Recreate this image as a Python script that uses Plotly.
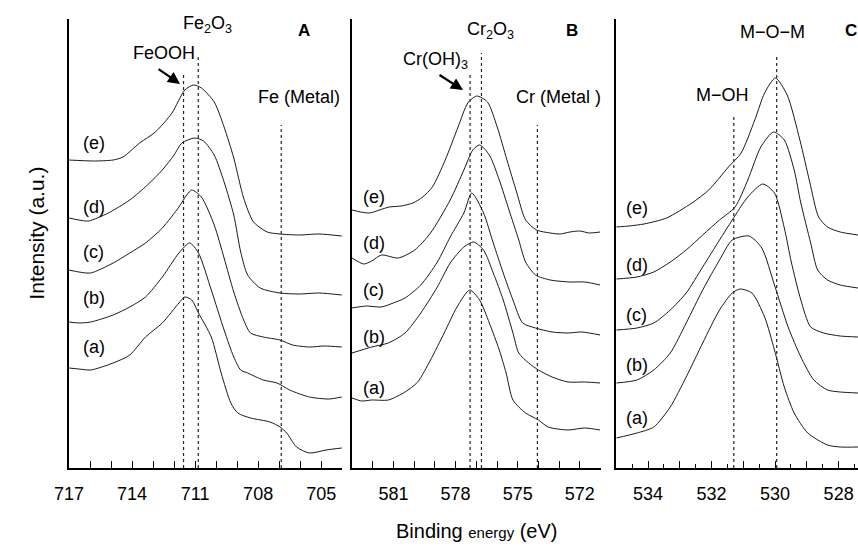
import plotly.graph_objects as go

# ---------------- data ----------------
# Panel A : Fe 2p3/2
A_E_e = [717.0, 715.83, 714.90, 714.43, 713.64, 712.89, 712.10, 711.49, 711.07, 710.70, 710.09, 709.62, 709.16, 708.69, 708.22, 707.57, 706.96, 706.03, 705.10, 704.02]
A_I_e = [308, 307, 308, 311, 325, 336, 355, 378, 383, 380, 366, 341, 310, 270, 246, 236, 234, 233, 234, 232]
A_E_d = [717.0, 716.53, 716.07, 715.13, 714.11, 713.27, 712.56, 712.0, 711.63, 711.02, 710.60, 710.09, 709.62, 709.16, 708.83, 708.50, 707.90, 706.96, 706.03, 705.10, 704.02]
A_I_d = [250, 248, 247, 255, 268, 283, 298, 313, 325, 330, 327, 313, 286, 253, 216, 193, 180, 175, 174, 175, 173]
A_E_c = [717.0, 716.53, 715.97, 714.90, 714.11, 713.36, 712.56, 711.77, 711.40, 711.16, 710.70, 710.09, 709.62, 709.16, 708.69, 708.36, 707.76, 706.96, 706.36, 705.56, 704.86, 704.02]
A_I_c = [198, 196, 195, 205, 215, 225, 240, 261, 273, 278, 271, 243, 210, 176, 148, 135, 131, 128, 123, 121, 122, 121]
A_E_b = [717.0, 716.53, 715.97, 714.90, 714.11, 713.36, 712.56, 711.77, 711.26, 710.84, 710.23, 709.62, 709.16, 708.83, 708.50, 707.76, 707.10, 706.50, 705.56, 704.63, 704.02]
A_I_b = [146, 145, 146, 153, 161, 171, 191, 215, 225, 215, 178, 138, 111, 98, 95, 88, 85, 78, 71, 69, 71]
A_E_a = [717.0, 716.53, 715.97, 714.90, 714.11, 713.36, 712.56, 711.77, 711.49, 711.16, 710.84, 710.23, 709.76, 709.30, 708.97, 708.36, 707.43, 706.96, 706.64, 706.17, 705.56, 704.77, 704.02]
A_I_a = [100, 99, 98, 105, 113, 131, 145, 165, 171, 168, 155, 131, 95, 65, 55, 50, 46, 41, 35, 21, 15, 18, 20]

# Panel B : Cr 2p3/2
B_E_e = [583.0, 582.57, 582.15, 581.67, 581.20, 580.63, 580.06, 579.59, 579.12, 578.50, 577.88, 577.41, 576.98, 576.46, 575.99, 575.52, 575.04, 574.62, 574.09, 573.43, 572.95, 572.48, 572.01, 571.54, 571.02]
B_I_e = [258, 256, 255, 258, 261, 262, 265, 271, 281, 308, 341, 365, 372, 366, 341, 308, 275, 248, 238, 235, 234, 236, 237, 235, 236]
B_E_d = [583.0, 582.43, 582.05, 581.58, 580.77, 579.97, 579.21, 578.26, 577.60, 577.17, 576.84, 576.37, 575.89, 575.42, 574.95, 574.62, 574.14, 573.43, 572.48, 571.77, 571.02]
B_I_d = [210, 204, 207, 213, 210, 218, 235, 268, 298, 318, 323, 313, 288, 258, 228, 206, 193, 188, 186, 186, 183]
B_E_c = [583.0, 582.29, 581.58, 581.01, 580.44, 579.68, 578.88, 578.26, 577.60, 577.22, 576.65, 576.18, 575.70, 575.23, 574.76, 574.14, 573.34, 572.57, 571.91, 571.02]
B_I_c = [160, 162, 161, 165, 170, 183, 206, 231, 255, 275, 255, 225, 195, 168, 145, 140, 136, 135, 136, 133]
B_E_b = [583.0, 582.05, 581.25, 580.44, 579.68, 578.88, 578.26, 577.60, 577.13, 576.65, 576.18, 575.70, 575.23, 574.95, 574.47, 574.0, 573.34, 572.57, 571.77, 571.02]
B_I_b = [115, 121, 125, 135, 155, 181, 205, 221, 226, 218, 195, 168, 135, 115, 105, 98, 91, 86, 86, 85]
B_E_a = [583.0, 582.53, 582.05, 581.25, 580.44, 579.83, 579.21, 578.55, 577.93, 577.32, 576.84, 576.37, 575.89, 575.56, 575.23, 574.62, 574.0, 573.53, 572.57, 571.77, 571.02]
B_I_a = [70, 67, 68, 68, 76, 86, 108, 135, 161, 178, 168, 145, 118, 95, 68, 55, 48, 41, 38, 40, 38]

# Panel C : O 1s
C_E_e = [535.0, 534.6, 534.13, 533.42, 532.62, 532.09, 531.47, 531.07, 530.64, 530.33, 529.99, 529.62, 529.22, 528.91, 528.63, 528.35, 527.95, 527.39]
C_I_e = [241, 242, 244, 250, 265, 278, 301, 315, 348, 375, 390, 373, 328, 286, 251, 241, 236, 233]
C_E_d = [535.0, 534.35, 533.82, 533.30, 532.80, 532.28, 531.75, 531.26, 530.86, 530.45, 530.05, 529.71, 529.40, 529.19, 528.88, 528.66, 528.35, 527.95, 527.39]
C_I_d = [189, 191, 196, 206, 218, 233, 248, 261, 288, 321, 336, 328, 298, 265, 225, 198, 188, 183, 180]
C_E_c = [535.0, 534.35, 533.82, 533.30, 532.80, 532.28, 531.75, 531.35, 530.86, 530.39, 530.02, 529.71, 529.49, 529.19, 528.88, 528.47, 527.95, 527.39]
C_I_c = [138, 140, 145, 158, 175, 201, 228, 248, 271, 284, 275, 240, 206, 168, 141, 135, 132, 131]
C_E_b = [535.0, 534.35, 533.82, 533.30, 532.80, 532.28, 531.75, 531.35, 530.82, 530.42, 530.02, 529.59, 529.19, 528.78, 528.35, 527.95, 527.39]
C_I_b = [85, 88, 98, 115, 145, 178, 208, 228, 232, 220, 183, 141, 111, 88, 78, 76, 75]
C_E_a = [535.0, 534.35, 533.82, 533.30, 532.80, 532.28, 531.75, 531.35, 531.10, 530.73, 530.33, 530.02, 529.71, 529.40, 528.97, 528.35, 527.95, 527.39]
C_I_a = [30, 35, 41, 61, 91, 125, 158, 175, 179, 175, 151, 118, 81, 55, 35, 23, 21, 21]

curve_names = ["(a)", "(b)", "(c)", "(d)", "(e)"]

# reference peak positions (eV)
A_refs = [711.55, 710.85, 706.9]
B_refs = [577.3, 576.75, 574.05]
C_refs = [531.3, 529.95]

# tick labels
A_ticks = [717, 714, 711, 708, 705]
B_ticks = [581, 578, 575, 572]
C_ticks = [535, 534, 533, 532, 531, 530, 529, 528]
C_ticktext = [" ", "534", " ", "532", " ", "530", " ", "528"]

# ---------------- layout helpers ----------------
W, H = 858, 546
T, Bm = 19, 78
PH = H - T - Bm


def px(x):
    return x / W


def py(y):
    return (H - Bm - y) / PH


LINE = "#1a1a1a"
FONT = "Liberation Sans, Arial, sans-serif"

fig = go.Figure()

panels = [
    ("x", "y", [(A_E_a, A_I_a), (A_E_b, A_I_b), (A_E_c, A_I_c), (A_E_d, A_I_d), (A_E_e, A_I_e)]),
    ("x2", "y2", [(B_E_a, B_I_a), (B_E_b, B_I_b), (B_E_c, B_I_c), (B_E_d, B_I_d), (B_E_e, B_I_e)]),
    ("x3", "y3", [(C_E_a, C_I_a), (C_E_b, C_I_b), (C_E_c, C_I_c), (C_E_d, C_I_d), (C_E_e, C_I_e)]),
]
for xa, ya, curves in panels:
    for name, (E, I) in zip(curve_names, curves):
        fig.add_trace(go.Scatter(
            x=E, y=I, xaxis=xa, yaxis=ya, mode="lines", name=name,
            line=dict(color=LINE, width=1, shape="spline", smoothing=0.7),
            showlegend=False, hoverinfo="skip"))

# dotted reference lines (height in y units)
ref_specs = [("x", "y", A_refs, [396, 413, 343]),
             ("x2", "y2", B_refs, [396, 415, 343]),
             ("x3", "y3", C_refs, [353, 413])]
for xa, ya, refs, tops in ref_specs:
    for e, top in zip(refs, tops):
        fig.add_shape(type="line", xref=xa, yref=ya, x0=e, x1=e, y0=0, y1=top,
                      line=dict(color="#222", width=1.2, dash="dot"))

axis_common = dict(showgrid=False, zeroline=False, showline=True, linecolor="black",
                   linewidth=2, ticks="inside", ticklen=7, tickwidth=1.2, tickcolor="black",
                   tickfont=dict(family=FONT, size=18, color="black"),
                   ticklabelstandoff=8)
minor_1 = dict(dtick=1, ticks="inside", ticklen=7, tickcolor="black", tickwidth=1.2, showgrid=False)
yaxis_common = dict(showgrid=False, zeroline=False, showline=True, linecolor="black",
                    linewidth=2, showticklabels=False, ticks="", range=[0, PH], fixedrange=True)

fig.update_layout(
    width=W, height=H, margin=dict(l=0, r=0, t=T, b=Bm),
    paper_bgcolor="white", plot_bgcolor="white",
    xaxis=dict(domain=[px(55), px(333)], range=[717, 704], tickvals=A_ticks,
               minor=dict(tick0=704, **minor_1), anchor="y", **axis_common),
    xaxis2=dict(domain=[px(343), px(596)], range=[583, 571], tickvals=B_ticks,
                minor=dict(tick0=571, **minor_1), anchor="y2", **axis_common),
    xaxis3=dict(domain=[px(612), 1.0], range=[535, 527.39], tickvals=C_ticks, ticktext=C_ticktext,
                anchor="y3", minor=dict(dtick=0.5, tick0=528, ticks="inside", ticklen=4,
                                        tickcolor="black", tickwidth=1.2, showgrid=False),
                **axis_common),
    yaxis=dict(domain=[0, 1], anchor="x", **yaxis_common),
    yaxis2=dict(domain=[0, 1], anchor="x2", **yaxis_common),
    yaxis3=dict(domain=[0, 1], anchor="x3", **yaxis_common),
)


def label(text, x, y, size=18, xanchor="center", **kw):
    fig.add_annotation(text=text, xref="paper", yref="paper", x=px(x), y=py(y),
                       showarrow=False, xanchor=xanchor, yanchor="middle",
                       font=dict(family=FONT, size=size, color="black"), **kw)


# panel letters
label("<b>A</b>", 294, 30, 17)
label("<b>B</b>", 567, 30, 17)
label("<b>C</b>", 858, 30, 17, xanchor="right", borderpad=0)

# species labels
label("Fe<sub>2</sub>O<sub>3</sub>", 196, 25)
label("FeOOH", 152, 53)
label("Fe (Metal)", 289, 97)
label("Cr<sub>2</sub>O<sub>3</sub>", 484, 30)
label("Cr(OH)<sub>3</sub>", 428, 60)
label("Cr (Metal )", 553, 97)
label("M\u2212O\u2212M", 771, 32)
label("M\u2212OH", 720, 95)

# arrows
for (hx, hy, tx, ty) in [(168, 84, 145, 68), (456, 90, 431, 74)]:
    fig.add_annotation(text="", xref="paper", yref="paper", x=px(hx), y=py(hy),
                       ax=tx - hx, ay=ty - hy, axref="pixel", ayref="pixel",
                       showarrow=True, arrowhead=2, arrowsize=1.1, arrowwidth=2.2,
                       arrowcolor="black")

# curve labels
for xx, ys in [(80, [347, 298, 252, 207, 143]),
               (365, [388, 337, 290, 243, 197]),
               (633, [418, 365, 315, 265, 208])]:
    for name, yy in zip(curve_names, ys):
        label(name, xx, yy, 18)

# axis titles
label("Intensity (a.u.)", 21, 233, 21, textangle=-90)
label("Binding <span style='font-size:15px'>energy</span> (eV)", 470, 531, 20)

fig.write_html("out.html")
